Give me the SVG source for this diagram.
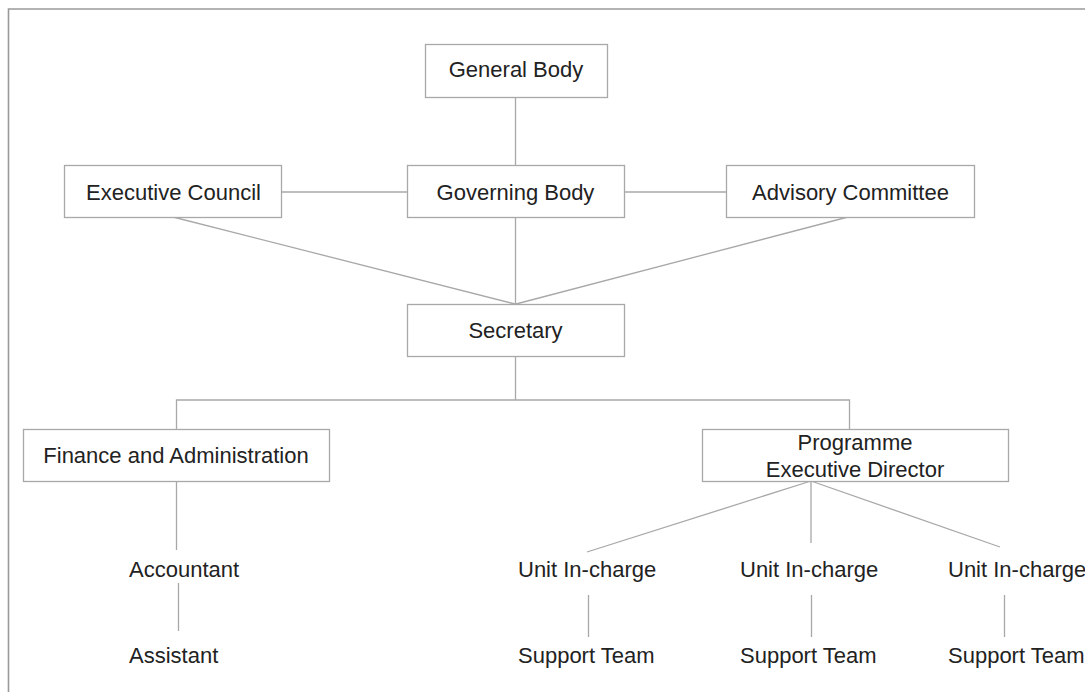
<svg xmlns="http://www.w3.org/2000/svg" width="1085" height="692" viewBox="0 0 1085 692">
<style>
.box{fill:#fff;stroke:#a8a8a8;stroke-width:1.3}
.ln{stroke:#a8a8a8;stroke-width:1.3;fill:none}
.t{font-family:"Liberation Sans",Arial,sans-serif;font-size:22px;fill:#222}
.m{text-anchor:middle}
</style>
<rect x="0" y="0" width="1085" height="692" fill="#fff"/>
<path d="M8.5,700 V9 H1100" fill="none" stroke="#9a9a9a" stroke-width="1.6"/>
<g id="connectors" class="ln">
<line x1="515.5" y1="97" x2="515.5" y2="165"/>
<line x1="281" y1="192" x2="407" y2="192"/>
<line x1="624" y1="192" x2="726" y2="192"/>
<line x1="515.5" y1="217" x2="515.5" y2="304"/>
<line x1="173" y1="217" x2="515" y2="304"/>
<line x1="848" y1="217" x2="516" y2="304"/>
<line x1="515.5" y1="356" x2="515.5" y2="400"/>
<polyline points="176.5,429 176.5,400 849.5,400 849.5,429"/>
<line x1="176.5" y1="481" x2="176.5" y2="550"/>
<line x1="178.5" y1="583" x2="178.5" y2="631"/>
<line x1="811" y1="481" x2="587" y2="552"/>
<line x1="811" y1="481" x2="811" y2="543"/>
<line x1="811" y1="481" x2="1000" y2="547"/>
<line x1="588.5" y1="595" x2="588.5" y2="637"/>
<line x1="811.5" y1="595" x2="811.5" y2="637"/>
<line x1="1004.5" y1="595" x2="1004.5" y2="637"/>
</g>
<g id="general-body"><rect class="box" x="425.5" y="44.5" width="182" height="53"/><text class="t m" x="516" y="77">General Body</text></g>
<g id="executive-council"><rect class="box" x="64.5" y="165.5" width="217" height="52"/><text class="t m" x="173.5" y="200">Executive Council</text></g>
<g id="governing-body"><rect class="box" x="407.5" y="165.5" width="217" height="52"/><text class="t m" x="515.5" y="200">Governing Body</text></g>
<g id="advisory-committee"><rect class="box" x="726.5" y="165.5" width="248" height="52"/><text class="t m" x="850.5" y="200">Advisory Committee</text></g>
<g id="secretary"><rect class="box" x="407.5" y="304.5" width="217" height="52"/><text class="t m" x="515.5" y="338">Secretary</text></g>
<g id="finance"><rect class="box" x="23.5" y="429.5" width="306" height="52"/><text class="t m" x="176" y="463">Finance and Administration</text></g>
<g id="programme-director"><rect class="box" x="702.5" y="429.5" width="306" height="52"/><text class="t m" x="855" y="450">Programme</text><text class="t m" x="855" y="477">Executive Director</text></g>
<g id="accountant"><text class="t" x="129" y="577">Accountant</text></g>
<g id="assistant"><text class="t" x="129" y="663">Assistant</text></g>
<g id="unit1"><text class="t" x="518" y="577">Unit In-charge</text></g>
<g id="unit2"><text class="t" x="740" y="577">Unit In-charge</text></g>
<g id="unit3"><text class="t" x="948" y="577">Unit In-charge</text></g>
<g id="support1"><text class="t" x="518" y="663">Support Team</text></g>
<g id="support2"><text class="t" x="740" y="663">Support Team</text></g>
<g id="support3"><text class="t" x="948" y="663">Support Team</text></g>
</svg>
